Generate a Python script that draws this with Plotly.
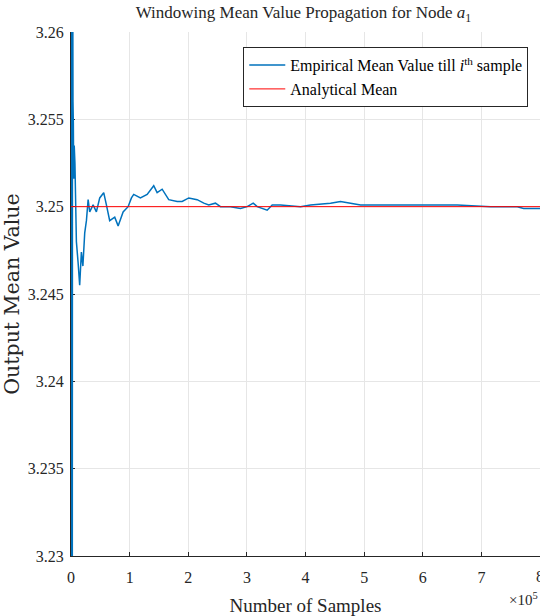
import plotly.graph_objects as go

# Empirical mean (samples, value)
samples = [0, 1000, 1400, 1800, 2200, 2600, 3000, 3400, 4000, 4600, 5500, 6700,
           8000, 9200, 12100, 14800, 17700, 20300, 23400,
           26300, 29200, 31900, 37700, 43300, 49000, 55800, 60400, 66000, 74600,
           80400, 88900, 97400, 103100, 107000, 118400, 129900, 141100, 146900,
           155500, 166700, 181100, 189600, 200900, 215200, 226500, 235000, 246400,
           255000, 272000, 289100, 300500, 310800, 317600, 334600, 343200, 357300,
           391500, 408500, 442700, 459700, 476800, 493900, 533100, 556500, 601400,
           658900, 715700, 761300, 772000, 795400, 800000]
emp_mean = [3.20, 3.29, 3.215, 3.28, 3.225, 3.27, 3.262, 3.256, 3.2548, 3.2516,
            3.2535, 3.2525, 3.2495, 3.248, 3.2468, 3.2455, 3.2474,
            3.2466, 3.2485, 3.2492, 3.2504, 3.2497, 3.2501, 3.2497, 3.2505, 3.2508,
            3.2501, 3.2492, 3.2494, 3.2489, 3.2497, 3.25, 3.2505, 3.2507, 3.2505,
            3.2507, 3.2512, 3.2508, 3.251, 3.2504, 3.2503, 3.2503, 3.2505, 3.2504,
            3.2502, 3.2501, 3.2502, 3.25, 3.25, 3.2499, 3.25, 3.2502, 3.25, 3.2498,
            3.2501, 3.2501, 3.25, 3.2501, 3.2502, 3.2503, 3.2502, 3.2501, 3.2501,
            3.2501, 3.2501, 3.2501, 3.25, 3.25, 3.2499, 3.2499, 3.2499]
analytical_x = [0, 800000]
analytical_mean = [3.25, 3.25]

x_tickvals = [0, 100000, 200000, 300000, 400000, 500000, 600000, 700000, 800000]
x_ticktext = ["0", "1", "2", "3", "4", "5", "6", "7", "8"]
y_tickvals = [3.23, 3.235, 3.24, 3.245, 3.25, 3.255, 3.26]
y_ticktext = ["3.23", "3.235", "3.24", "3.245", "3.25", "3.255", "3.26"]

FONT = "Liberation Serif"
TXT = "#262626"

fig = go.Figure()
fig.add_trace(go.Scatter(
    x=samples, y=emp_mean, mode="lines",
    line=dict(color="#0072BD", width=1.5),
    name="Empirical Mean Value till <i>i</i><sup>th</sup> sample"))
fig.add_trace(go.Scatter(
    x=analytical_x, y=analytical_mean, mode="lines",
    line=dict(color="#FF0000", width=1),
    name="Analytical Mean"))

axis_common = dict(
    showgrid=True, gridcolor="#e6e6e6", gridwidth=1,
    showline=True, linecolor=TXT, linewidth=1,
    ticks="inside", ticklen=4, tickcolor=TXT,
    zeroline=False, mirror=False, layer="below traces",
    tickfont=dict(family=FONT, size=16, color=TXT),
)

fig.update_layout(
    width=540, height=616,
    margin=dict(l=70.6, r=0.4, t=32, b=60),
    paper_bgcolor="white", plot_bgcolor="white",
    title=dict(text="Windowing Mean Value Propagation for Node <i>a</i><sub>1</sub>",
               x=0.562, xanchor="center", y=0.98, yanchor="middle",
               font=dict(family=FONT, size=17, color=TXT)),
    xaxis=dict(range=[0, 800000], tickvals=x_tickvals, ticktext=x_ticktext,
               ticklabelstandoff=7,
               title=dict(text="Number of Samples", standoff=15,
                          font=dict(family=FONT, size=19, color=TXT)),
               **axis_common),
    yaxis=dict(range=[3.23, 3.26], tickvals=y_tickvals, ticktext=y_ticktext,
               ticklabelstandoff=3,
               title=dict(text="Output Mean Value", standoff=8,
                          font=dict(family="DejaVu Serif", size=20.5, color=TXT)),
               **axis_common),
    legend=dict(x=0.975, xanchor="right", y=0.971, yanchor="top",
                bgcolor="white", bordercolor=TXT, borderwidth=1,
                font=dict(family=FONT, size=16, color="#000000"),
                tracegroupgap=0, itemwidth=36),
    showlegend=True,
)

# last tick label (clipped by the figure edge, as in the reference)
fig.add_annotation(text=x_ticktext[-1], xref="x", yref="paper",
                   x=x_tickvals[-1], y=-0.04, xanchor="center", yanchor="middle",
                   showarrow=False, font=dict(family=FONT, size=16, color=TXT))
fig.add_annotation(text="×10<sup>5</sup>", xref="paper", yref="paper",
                   x=1.0, y=-0.083, xanchor="right", yanchor="middle", showarrow=False,
                   font=dict(family=FONT, size=15, color=TXT))

fig.write_html("out.html")
